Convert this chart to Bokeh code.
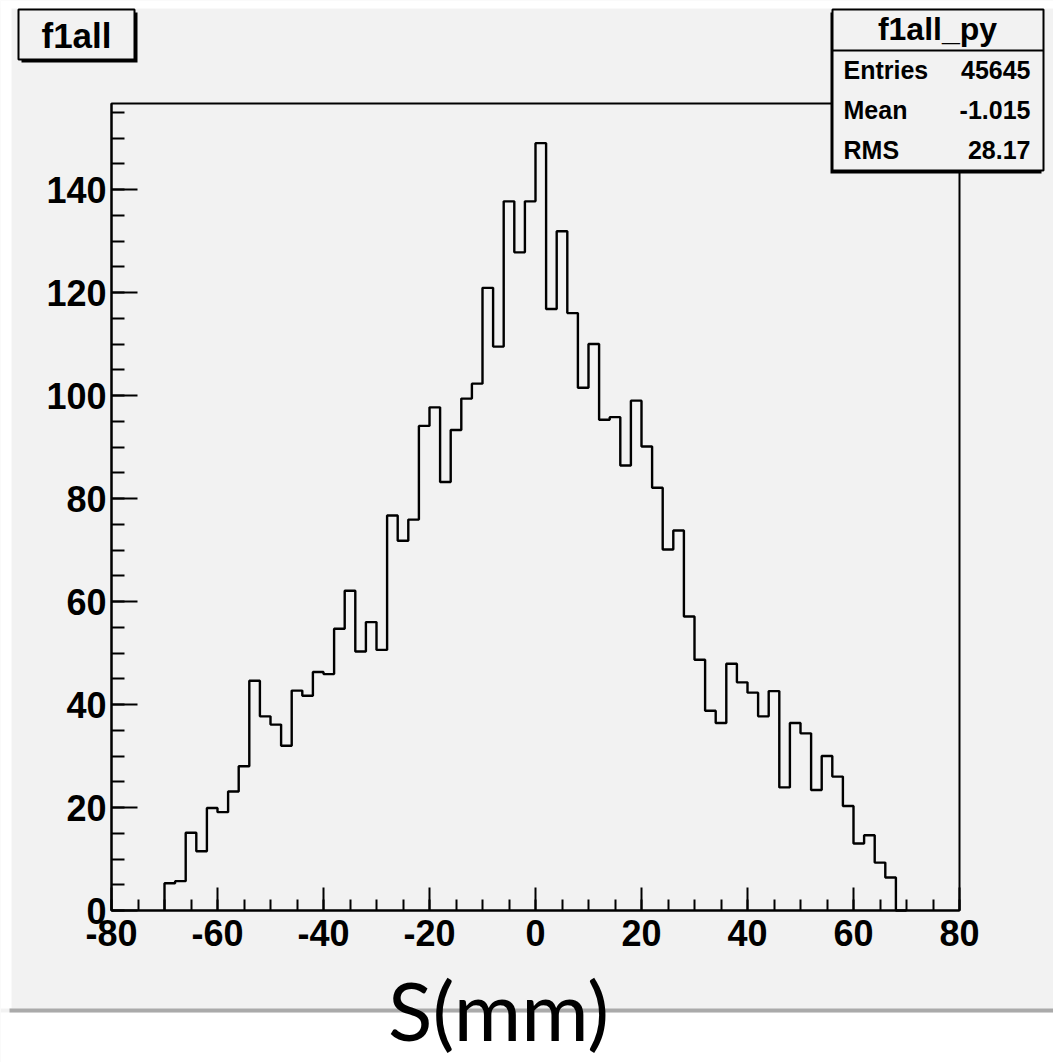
from bokeh.plotting import figure
from bokeh.models import Range1d, FixedTicker, BoxAnnotation, Label
from bokeh.embed import file_html
from bokeh.resources import INLINE

# ---- data: projection f1all_py, 70 bins of 2 mm from -70 to 70 ----
bin_start = -70
bin_width = 2
counts = [
    5.3, 5.7, 15.1, 11.5, 19.9, 19.1, 23.1, 28.0, 44.6, 37.7,
    36.1, 32.0, 42.7, 41.7, 46.3, 45.9, 54.7, 62.1, 50.3, 56.0,
    50.6, 76.7, 71.8, 75.9, 94.1, 97.7, 83.2, 93.3, 99.4, 102.3,
    120.9, 109.5, 137.7, 127.8, 137.7, 149.0, 116.8, 131.9, 116.0, 101.5,
    110.0, 95.3, 95.8, 86.4, 99.0, 90.1, 82.1, 70.1, 73.8, 57.1,
    48.7, 38.8, 36.4, 47.9, 44.3, 42.3, 37.7, 42.6, 23.9, 36.4,
    34.4, 23.4, 30.0, 26.0, 20.3, 13.0, 14.6, 9.3, 6.4, 0.0,
]
edges = [bin_start + i * bin_width for i in range(len(counts) + 1)]

x_ticks = [-80, -60, -40, -20, 0, 20, 40, 60, 80]
x_minor = list(range(-80, 81, 5))
y_ticks = [0, 20, 40, 60, 80, 100, 120, 140]
y_minor = list(range(0, 156, 5))

hist_title = "f1all"
stats_title = "f1all_py"
stats_names = ["Entries", "Mean", "RMS"]
stats_values = ["45645", "-1.015", "28.17"]
x_label = "S(mm)"

# ---- pad geometry (pixels) and histogram frame ----
W, H = 1053, 1062
FL, FR, FT, FB = 111, 959, 103, 910
XMIN, XMAX = -80, 80
YMIN, YMAX = 0, 156.7

SX = (FR - FL) / (XMAX - XMIN)
SY = (FB - FT) / (YMAX - YMIN)

FONT = "Liberation Sans"
BG = "#f2f2f2"

# the plotting area spans the whole pad; the axes sit on the histogram frame
p = figure(
    width=W, height=H,
    x_range=Range1d(XMIN - FL / SX, XMAX + (W - FR) / SX),
    y_range=Range1d(YMIN - (H - FB) / SY, YMAX + FT / SY),
    output_backend="svg", toolbar_location=None,
    min_border=0, min_border_left=0, min_border_right=0,
    min_border_top=0, min_border_bottom=0,
)
p.xgrid.visible = False
p.ygrid.visible = False
p.background_fill_color = BG
p.border_fill_color = "white"
p.outline_line_color = None


def style_axis(ax, ticks, minor, tick_len, minor_len, standoff, loc, bounds):
    ax.fixed_location = loc
    ax.bounds = bounds
    ax.ticker = FixedTicker(ticks=ticks, minor_ticks=minor)
    ax.major_label_overrides = {t: str(t) for t in ticks}
    ax.axis_line_color = "black"
    ax.axis_line_width = 2
    ax.major_tick_in = tick_len
    ax.major_tick_out = 0
    ax.minor_tick_in = minor_len
    ax.minor_tick_out = 0
    ax.major_tick_line_color = "black"
    ax.major_tick_line_width = 2
    ax.minor_tick_line_color = "black"
    ax.minor_tick_line_width = 2
    ax.major_label_text_font = FONT
    ax.major_label_text_font_style = "bold"
    ax.major_label_text_font_size = "36px"
    ax.major_label_text_color = "black"
    ax.major_label_standoff = standoff


style_axis(p.xaxis[0], x_ticks, x_minor, 23, 11, 9, YMIN, (XMIN, XMAX))
style_axis(p.yaxis[0], y_ticks, y_minor, 26, 13, 5, XMIN, (YMIN, YMAX))

# histogram outline (step contour from the bin edges)
step_x = [edges[0]] + edges
step_y = [0] + counts + [0]
p.step(step_x, step_y, mode="after", line_color="black", line_width=2.4)


# ---- pad decorations, placed in pixels of the pad ----
def fx(px):
    return XMIN + (px - FL) / SX


def fy(py):
    return YMIN + (FB - py) / SY


def box(l, t, r, b, fill=None, line=None, lw=0):
    p.add_layout(BoxAnnotation(
        left=fx(l), right=fx(r), top=fy(t), bottom=fy(b),
        fill_color=fill if fill else "white", fill_alpha=1.0 if fill else 0.0,
        line_color=line if line else "black", line_width=lw,
        line_alpha=1.0 if line else 0.0,
    ))


def text(px, py, s, size, align="left", style="bold", font=FONT):
    # py is the vertical middle of the text line
    p.add_layout(Label(
        x=fx(px), y=fy(py), text=s,
        text_font=font, text_font_size=size, text_font_style=style,
        text_color="black", text_align=align, text_baseline="middle",
    ))


# white page around the grey pad, with the pad's bottom edge
box(0, 0, W, 8, "white")
box(0, 0, 11, 1008, "white")
box(0, 1012, W, H, "white")
box(9, 1008, W, 1012, "#aaaaaa")

# histogram frame
p.add_layout(BoxAnnotation(
    left=XMIN, right=XMAX, bottom=YMIN, top=YMAX,
    fill_alpha=0.0, line_color="black", line_width=2, line_alpha=1.0,
))

# histogram title box
box(21, 12, 137, 62, "black")
box(18, 9, 134, 59, BG, "black", 2)
text(76, 35, hist_title, "35px", align="center")

# statistics box
box(830, 12, 1041, 173, "black")
box(832, 9, 1043, 170, BG, "black", 2)
box(832, 49, 1043, 51, "black")
text(937, 28, stats_title, "32px", align="center")
for i, (name, val) in enumerate(zip(stats_names, stats_values)):
    mid = 69.5 + 40 * i
    text(843, mid, name, "25px")
    text(1030, mid, val, "25px", align="right")

# axis title
text(498, 1008, x_label, "82px", align="center", style="normal", font="Lato")

open("out.html", "w").write(file_html(p, INLINE))
